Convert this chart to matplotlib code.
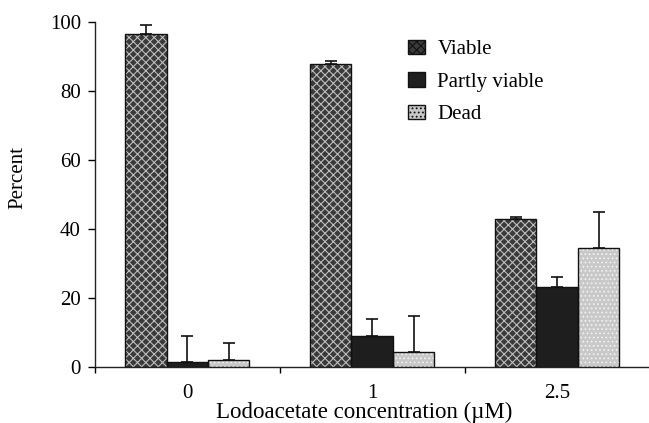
import matplotlib
matplotlib.use("Agg")
import matplotlib.pyplot as plt
import numpy as np
from matplotlib.patches import Patch

plt.rcParams['font.family'] = ['Liberation Serif', 'DejaVu Serif']
plt.rcParams['hatch.linewidth'] = 0.8

categories = ["0", "1", "2.5"]
series = ["Viable", "Partly viable", "Dead"]
viable = [96.5, 87.7, 42.9]
viable_err = [2.7, 1.0, 0.6]
partly = [1.5, 9.0, 23.2]
partly_err = [7.5, 5.0, 3.0]
dead = [2.0, 4.4, 34.5]
dead_err = [5.0, 10.4, 10.5]

fig = plt.figure(figsize=(6.49, 4.23), dpi=100)
ax = fig.add_axes([0.146, 0.1324, 0.855, 0.8156])

centers = np.arange(len(categories)) + 0.5
w = 0.224
styles = [
    dict(fc="#3a3a3a", hatch="xxxx", hc="#bdbdbd"),
    dict(fc="#1e1e1e", hatch=None, hc=None),
    dict(fc="#c8c8c8", hatch="....", hc="#f0f0f0"),
]
vals = [viable, partly, dead]
errs = [viable_err, partly_err, dead_err]
handles = []
for i, (v, e, st) in enumerate(zip(vals, errs, styles)):
    x = centers + (i - 1) * w
    ax.bar(x, v, w, color=st["fc"], edgecolor="none", linewidth=0, zorder=2)
    if st["hatch"]:
        ax.bar(x, v, w, color="none", edgecolor=st["hc"], hatch=st["hatch"], linewidth=0, zorder=3)
    ax.bar(x, v, w, color="none", edgecolor="#111111", linewidth=1.0, zorder=4)
    ax.errorbar(x, v, yerr=[np.zeros(len(e)), e], fmt="none", ecolor="#111111",
                elinewidth=1.2, capsize=4.3, capthick=1.2, zorder=1)
    handles.append(Patch(facecolor=st["fc"], edgecolor="#111111",
                         hatch=st["hatch"], label=series[i]))

ax.set_xlim(0, 3)
ax.set_ylim(0, 100)
ax.set_yticks([0, 20, 40, 60, 80, 100])
ax.set_xticks([0, 1, 2])
ax.set_xticklabels([])
ax.set_xticks(centers, minor=True)
ax.set_xticklabels(categories, minor=True)
ax.tick_params(axis="x", which="minor", length=0, pad=12, labelsize=15)
ax.tick_params(axis="x", which="major", length=4, direction="out", width=1)
ax.tick_params(axis="y", length=5, direction="out", width=1, labelsize=15, pad=5)
for s in ["top", "right"]:
    ax.spines[s].set_visible(False)
for s in ["left", "bottom"]:
    ax.spines[s].set_linewidth(1.0)
    ax.spines[s].set_color("#222222")

ax.set_ylabel("Percent", fontsize=15, va="center")
ax.yaxis.set_label_coords(-0.139, 0.548)
ax.set_xlabel("Lodoacetate concentration (µM)", fontsize=16.5, va="center")
ax.xaxis.set_label_coords(0.486, -0.133)

leg = ax.legend(handles=handles, loc="upper left", bbox_to_anchor=(0.531, 1.003),
                frameon=False, fontsize=15, handlelength=0.8, handleheight=0.7,
                handletextpad=0.6, labelspacing=0.62)

fig.savefig("out.png", dpi=100)
